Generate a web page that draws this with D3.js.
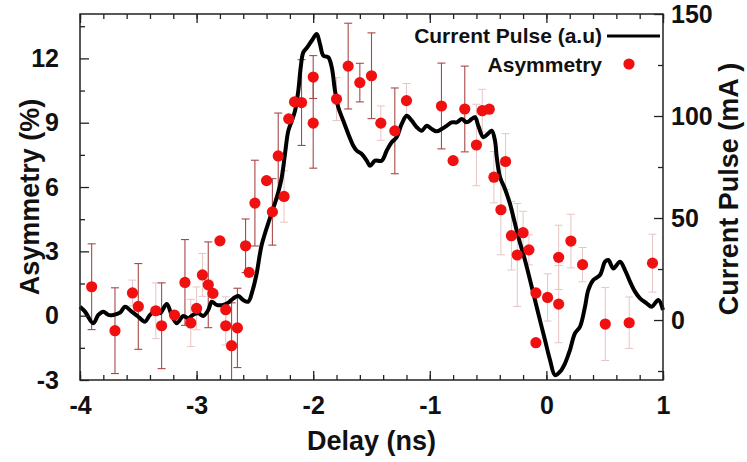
<!DOCTYPE html>
<html>
<head>
<meta charset="utf-8">
<script src="https://cdn.jsdelivr.net/npm/d3@7"></script>
<style>
  html, body { margin: 0; padding: 0; background: #fff; }
  svg { display: block; font-family: "Liberation Sans", Arial, sans-serif; font-weight: bold; }
</style>
</head>
<body>
<svg id="chart" width="747" height="462"></svg>
<script>
// ---------- data ----------
const delay = [-3.90,-3.70,-3.55,-3.50,-3.35,-3.30,-3.19,-3.10,-3.05,-3.00,-2.95,-2.90,-2.86,-2.80,-2.75,-2.75,-2.70,-2.65,-2.58,-2.55,
  -2.50,-2.40,-2.35,-2.30,-2.25,-2.21,-2.16,-2.10,-2.00,-2.00,-1.80,-1.70,-1.60,-1.50,-1.42,-1.30,-1.20,-0.90,-0.80,-0.70,
  -0.60,-0.55,-0.49,-0.45,-0.39,-0.35,-0.30,-0.25,-0.20,-0.15,-0.09,-0.09,0.01,0.105,0.105,0.21,0.31,0.505,0.71,0.91];
const asymmetry = [1.35,-0.70,1.06,0.43,0.23,-0.47,0.03,1.55,-0.34,0.34,1.90,1.44,1.04,3.49,0.28,-0.47,-1.40,-0.57,3.26,2.02,
  5.25,6.30,4.84,7.45,5.56,9.18,9.97,9.94,11.13,8.98,10.10,11.64,10.87,11.19,8.98,8.62,10.03,9.78,7.23,9.64,
  7.96,9.56,9.63,6.46,4.94,7.19,3.73,2.83,3.87,3.07,1.06,-1.26,0.85,2.72,0.54,3.48,2.38,-0.39,-0.33,2.45];
// error bars drawn strongly (with caps)
const errDark = [2.0,2.0,0,2.0,0,2.0,0,2.0,0,0,0,2.0,0,0,0,0,2.0,1.85,1.25,0,
  2.0,0,1.55,2.0,0,0,0,2.0,1.0,2.1,0,2.0,0.9,2.0,0,2.0,0,2.0,0,2.0,
  0,0,0,0,0,0,0,0,0,0,0,0,0,0,0,0,0,0,0,0];
// faint error bars
const errFaint = [0,0,0.6,0,1.3,0,0,0,1.1,1.0,1.0,0,0,0,0.6,0.9,0,0,0,0,
  0,0,0,0,1.2,0,0,0,0,0,1.0,0,0,0,0.8,0,0.8,0,0,0,
  1.9,1.0,0,1.2,2.1,1.3,1.6,2.4,1.0,0.7,0,0,1.1,1.5,1.8,1.25,0.8,1.7,1.2,1.35];

const pulseDelay = [-4.000,-3.957,-3.886,-3.843,-3.800,-3.757,-3.714,-3.657,-3.614,-3.557,-3.500,-3.443,-3.400,-3.348,-3.314,-3.256,-3.214,-3.171,-3.114,-3.071,
  -3.033,-2.985,-2.943,-2.900,-2.870,-2.828,-2.771,-2.728,-2.685,-2.642,-2.600,-2.557,-2.519,-2.485,-2.442,-2.371,-2.314,-2.271,-2.242,-2.214,
  -2.184,-2.156,-2.128,-2.107,-2.085,-2.051,-2.013,-1.970,-1.942,-1.913,-1.871,-1.841,-1.813,-1.785,-1.742,-1.699,-1.656,-1.627,-1.584,-1.541,
  -1.513,-1.470,-1.413,-1.370,-1.327,-1.284,-1.241,-1.198,-1.155,-1.112,-1.069,-1.027,-0.984,-0.941,-0.898,-0.855,-0.812,-0.769,-0.726,-0.683,
  -0.641,-0.612,-0.584,-0.541,-0.498,-0.469,-0.441,-0.426,-0.398,-0.355,-0.312,-0.284,-0.241,-0.184,-0.126,-0.070,-0.012,0.031,0.074,0.117,
  0.160,0.202,0.245,0.288,0.331,0.359,0.402,0.460,0.503,0.531,0.574,0.631,0.674,0.717,0.760,0.803,0.860,0.903,0.960,1.000];
const pulseCurrent = [6.5,4.1,-1.6,2.5,4.1,2.5,2.5,3.6,6.5,4.1,1.6,-0.8,2.5,4.6,3.3,7.8,2.5,-1.6,2.0,0.8,
  2.5,3.3,2.0,4.9,9.0,7.4,7.4,8.5,10.6,11.8,9.8,9.0,14.7,22.8,36.8,50.0,59.8,69.6,81.4,92.6,
  97.5,102.5,112.3,123.9,131.2,133.7,136.9,140.2,135.3,129.6,128.8,123.9,112.4,104.3,97.7,91.2,85.4,83.0,81.4,78.1,
  75.6,78.1,78.1,83.0,87.1,89.6,96.1,100.1,97.7,94.5,92.8,95.2,93.6,92.5,93.6,95.2,96.9,96.9,98.5,96.9,
  98.5,99.4,95.2,89.6,91.5,92.8,87.9,79.9,70.1,64.2,56.9,50.6,40.8,29.4,16.3,3.3,-9.8,-19.6,-27.0,-25.3,
  -21.2,-14.7,-6.5,-3.3,6.5,14.7,19.6,22.1,28.6,29.4,25.3,28.6,24.5,18.8,13.9,10.6,8.2,6.5,9.8,4.9];

const xTicks = [-4,-3,-2,-1,0,1];
const xMinor = d3.range(-4, 1.0001, 0.2).map(v => +v.toFixed(2));
const leftTicks = [-3,0,3,6,9,12];
const leftMinor = [-1.5,1.5,4.5,7.5,10.5,13.5];
const rightTicks = [0,50,100,150];
const rightMinor = [-25,25,75,125];

const xTitle = "Delay (ns)";
const leftTitle = "Asymmetry (%)";
const rightTitle = "Current Pulse (mA )";
const legendLabels = ["Current Pulse (a.u)", "Asymmetry"];

// ---------- layout ----------
const L = 80, R = 663, T = 14, B = 380;
const svg = d3.select("#chart");
const x = d3.scaleLinear().domain([-4, 1]).range([L, R]);
const yL = d3.scaleLinear().domain([-3, 14.07]).range([B, T]);
const yR = d3.scaleLinear().domain([-29.4, 150]).range([B, T]);

const red = "#f01010";
const darkErr = "#a84848";
const faintErr = "#e9c4c4";

// ---------- error bars ----------
const pts = delay.map((d, i) => ({x: d, y: asymmetry[i], ed: errDark[i], ef: errFaint[i]}));
const plot = svg.append("g");
const cap = 4;
function drawErr(key, color, width) {
  const g = plot.append("g").attr("stroke", color).attr("stroke-width", width).attr("fill", "none");
  pts.filter(p => p[key] > 0).forEach(p => {
    const cx = x(p.x), y1 = yL(p.y + p[key]), y2 = Math.min(yL(p.y - p[key]), B);
    g.append("line").attr("x1", cx).attr("x2", cx).attr("y1", y1).attr("y2", y2);
    g.append("line").attr("x1", cx - cap).attr("x2", cx + cap).attr("y1", y1).attr("y2", y1);
    if (yL(p.y - p[key]) <= B)
      g.append("line").attr("x1", cx - cap).attr("x2", cx + cap).attr("y1", y2).attr("y2", y2);
  });
}
drawErr("ef", faintErr, 1);
drawErr("ed", darkErr, 1.1);

// ---------- current pulse line ----------
const line = d3.line()
  .x((d, i) => x(pulseDelay[i]))
  .y(d => yR(d))
  .curve(d3.curveCatmullRom.alpha(0.5));
plot.append("path")
  .datum(pulseCurrent)
  .attr("d", line)
  .attr("fill", "none")
  .attr("stroke", "#000")
  .attr("stroke-width", 4)
  .attr("stroke-linejoin", "round");

// ---------- points ----------
plot.append("g").selectAll("circle").data(pts).join("circle")
  .attr("cx", d => x(d.x)).attr("cy", d => yL(d.y)).attr("r", 5.6)
  .attr("fill", red);

// ---------- axes ----------
const fmt = d => String(d);
function styleAxis(g, size) {
  g.select(".domain").remove();
  g.selectAll(".tick line").attr("stroke", "#222").attr("stroke-width", 1.3);
  g.selectAll(".tick text").attr("font-size", size).attr("font-weight", "bold").attr("fill", "#111")
    .attr("font-family", "'Liberation Sans', Arial, sans-serif");
}
svg.append("g").attr("transform", `translate(0,${B})`)
  .call(d3.axisBottom(x).tickValues(xMinor).tickSize(-5).tickFormat(""))
  .call(g => styleAxis(g, 0));
svg.append("g").attr("transform", `translate(0,${B})`)
  .call(d3.axisBottom(x).tickValues(xTicks).tickSize(-9).tickPadding(16).tickFormat(fmt))
  .call(g => styleAxis(g, 25));
svg.append("g").attr("transform", `translate(0,${T})`)
  .call(d3.axisTop(x).tickValues(xMinor).tickSize(-5).tickFormat(""))
  .call(g => styleAxis(g, 0));
svg.append("g").attr("transform", `translate(0,${T})`)
  .call(d3.axisTop(x).tickValues(xTicks).tickSize(-9).tickFormat(""))
  .call(g => styleAxis(g, 0));

svg.append("g").attr("transform", `translate(${L},0)`)
  .call(d3.axisLeft(yL).tickValues(leftMinor).tickSize(-5).tickFormat(""))
  .call(g => styleAxis(g, 0));
svg.append("g").attr("transform", `translate(${L},0)`)
  .call(d3.axisLeft(yL).tickValues(leftTicks).tickSize(-9).tickPadding(21).tickFormat(fmt))
  .call(g => styleAxis(g, 25));

svg.append("g").attr("transform", `translate(${R},0)`)
  .call(d3.axisRight(yR).tickValues(rightMinor).tickSize(-5).tickFormat(""))
  .call(g => styleAxis(g, 0));
svg.append("g").attr("transform", `translate(${R},0)`)
  .call(d3.axisRight(yR).tickValues(rightTicks).tickSize(-9).tickPadding(8).tickFormat(fmt))
  .call(g => styleAxis(g, 25));

// frame
svg.append("rect").attr("x", L).attr("y", T).attr("width", R - L).attr("height", B - T)
  .attr("fill", "none").attr("stroke", "#222").attr("stroke-width", 1.5);

// ---------- titles ----------
svg.append("text").attr("x", (L + R) / 2).attr("y", 450).attr("text-anchor", "middle")
  .attr("font-size", 27).attr("fill", "#111").text(xTitle);
svg.append("text").attr("transform", `translate(39,${(T + B) / 2}) rotate(-90)`).attr("text-anchor", "middle")
  .attr("font-size", 27).attr("fill", "#111").text(leftTitle);
svg.append("text").attr("transform", `translate(738,${(T + B) / 2 - 8}) rotate(-90)`).attr("text-anchor", "middle")
  .attr("font-size", 27).attr("fill", "#111").text(rightTitle);

// ---------- legend ----------
const lg = svg.append("g");
lg.append("text").attr("x", 602).attr("y", 43).attr("text-anchor", "end")
  .attr("font-size", 21).attr("fill", "#111").text(legendLabels[0]);
lg.append("line").attr("x1", 607).attr("x2", 660).attr("y1", 36).attr("y2", 36)
  .attr("stroke", "#000").attr("stroke-width", 3);
lg.append("text").attr("x", 602).attr("y", 72).attr("text-anchor", "end")
  .attr("font-size", 21).attr("fill", "#111").text(legendLabels[1]);
lg.append("circle").attr("cx", 629).attr("cy", 64).attr("r", 5.6).attr("fill", red);
</script>
</body>
</html>
